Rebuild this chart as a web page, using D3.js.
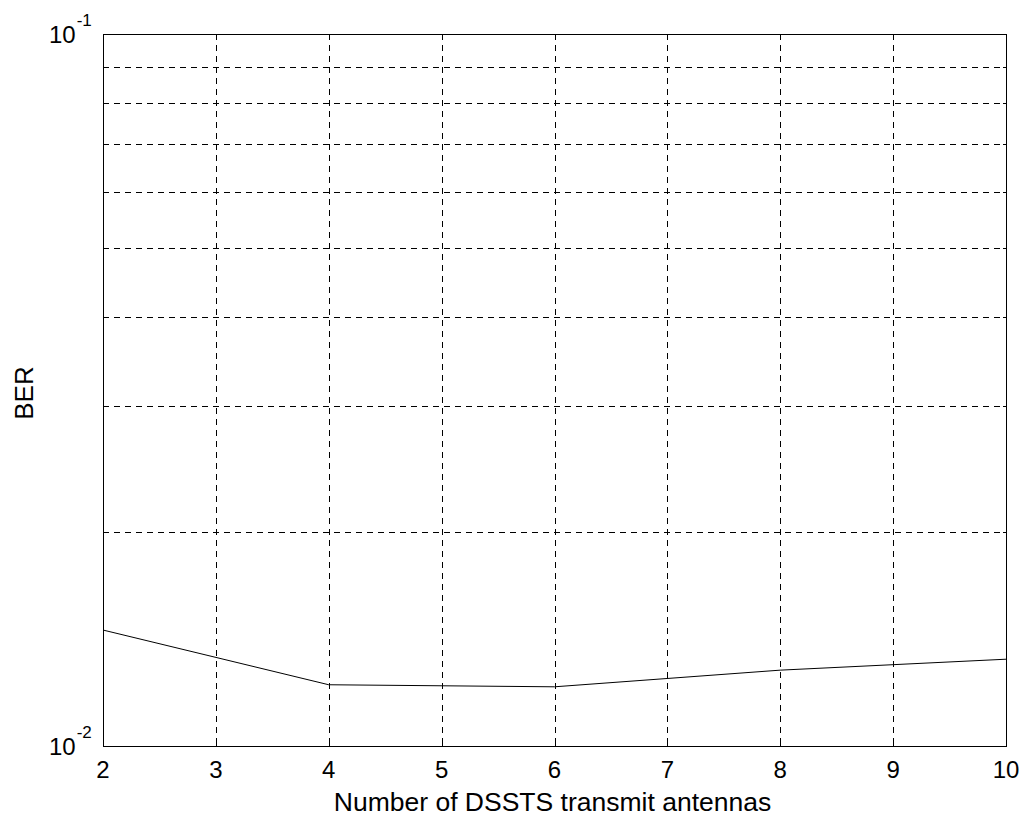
<!DOCTYPE html>
<html>
<head>
<meta charset="utf-8">
<script src="https://cdn.jsdelivr.net/npm/d3@7"></script>
<style>
  html, body { margin: 0; padding: 0; background: #fff; }
  svg { display: block; font-family: "Liberation Sans", Arial, sans-serif; }
</style>
</head>
<body>
<svg id="chart" width="1024" height="818"></svg>
<script>
// BER versus number of DSSTS transmit antennas
const antennas = [2, 4, 6, 8, 10];
const ber = [0.01455, 0.01219, 0.01211, 0.01278, 0.01324];
const xTicks = [2, 3, 4, 5, 6, 7, 8, 9, 10];
const yMajor = [0.01, 0.1];
const yMajorExp = ["-2", "-1"];
const yMinor = [0.02, 0.03, 0.04, 0.05, 0.06, 0.07, 0.08, 0.09];
const xLabel = "Number of DSSTS transmit antennas";
const yLabel = "BER";

const svg = d3.select("#chart");
const plotL = 103, plotR = 1006, plotT = 34, plotB = 746;

const x = d3.scaleLinear().domain([2, 10]).range([plotL, plotR]);
const y = d3.scaleLog().domain([0.01, 0.1]).range([plotB, plotT]);

// dashed grid
const grid = svg.append("g")
  .attr("stroke", "#000")
  .attr("stroke-width", 1)
  .attr("stroke-dasharray", "6,5")
  .attr("shape-rendering", "crispEdges");
grid.selectAll("line.v").data(xTicks.slice(1, -1)).join("line")
  .attr("class", "v")
  .attr("x1", d => Math.round(x(d)) + 0.5).attr("x2", d => Math.round(x(d)) + 0.5)
  .attr("y1", plotT).attr("y2", plotB);
grid.selectAll("line.h").data(yMinor).join("line")
  .attr("class", "h")
  .attr("y1", d => Math.round(y(d)) + 0.5).attr("y2", d => Math.round(y(d)) + 0.5)
  .attr("x1", plotL).attr("x2", plotR);

// inner ticks on all four sides
const tickLen = 5;
const ticks = svg.append("g").attr("stroke", "#000").attr("shape-rendering", "crispEdges");
xTicks.forEach(d => {
  const px = Math.round(x(d)) + 0.5;
  ticks.append("line").attr("x1", px).attr("x2", px).attr("y1", plotB).attr("y2", plotB - tickLen);
  ticks.append("line").attr("x1", px).attr("x2", px).attr("y1", plotT).attr("y2", plotT + tickLen);
});
yMinor.forEach(d => {
  const py = Math.round(y(d)) + 0.5;
  ticks.append("line").attr("x1", plotL).attr("x2", plotL + 3).attr("y1", py).attr("y2", py);
  ticks.append("line").attr("x1", plotR).attr("x2", plotR - 3).attr("y1", py).attr("y2", py);
});

// axes box
svg.append("rect")
  .attr("x", plotL + 0.5).attr("y", plotT + 0.5)
  .attr("width", plotR - plotL).attr("height", plotB - plotT)
  .attr("fill", "none").attr("stroke", "#000").attr("stroke-width", 1)
  .attr("shape-rendering", "crispEdges");

// data line
const line = d3.line().x((d, i) => x(antennas[i])).y(d => y(d));
svg.append("path")
  .datum(ber)
  .attr("d", line)
  .attr("fill", "none")
  .attr("stroke", "#000")
  .attr("stroke-width", 1);

// x tick labels
svg.append("g").selectAll("text").data(xTicks).join("text")
  .attr("x", d => x(d))
  .attr("y", plotB + 32)
  .attr("text-anchor", "middle")
  .attr("font-size", 24)
  .text(d => d);

// y tick labels with exponents
const yl = svg.append("g").selectAll("text").data(yMajor).join("text")
  .attr("x", 49)
  .attr("y", d => y(d) + 9)
  .attr("font-size", 24);
yl.append("tspan").text("10");
yl.append("tspan")
  .attr("font-size", 17)
  .attr("dy", -17)
  .attr("dx", 1)
  .text((d, i) => yMajorExp[i]);

// axis titles
svg.append("text")
  .attr("x", 552.5)
  .attr("y", 811)
  .attr("text-anchor", "middle")
  .attr("font-size", 26.5)
  .text(xLabel);

svg.append("text")
  .attr("transform", "translate(33, 393) rotate(-90)")
  .attr("text-anchor", "middle")
  .attr("font-size", 26)
  .text(yLabel);
</script>
</body>
</html>
